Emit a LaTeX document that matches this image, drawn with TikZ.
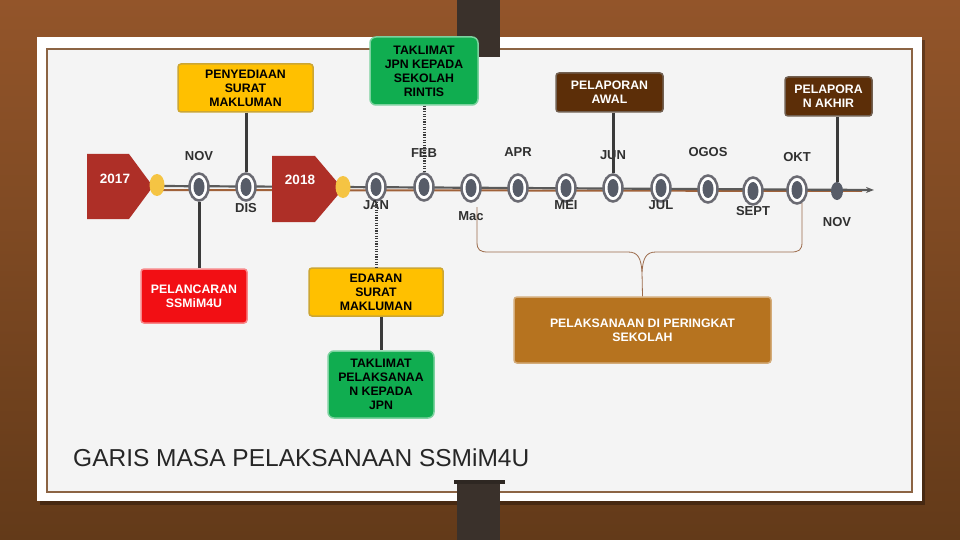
\documentclass[tikz,border=0pt]{standalone}
\usepackage{fontspec}
\setmainfont{Liberation Sans}
\usetikzlibrary{shapes.geometric,arrows.meta,calc}

\definecolor{woodtop}{HTML}{93552A}
\definecolor{woodbot}{HTML}{633A19}
\definecolor{paper}{HTML}{F4F4F4}
\definecolor{frameline}{HTML}{8C6444}
\definecolor{strap}{HTML}{3A312B}
\definecolor{yearred}{HTML}{AE2F27}
\definecolor{dotyellow}{HTML}{F5C443}
\definecolor{ringgray}{HTML}{6A6A72}
\definecolor{dotgray}{HTML}{575C68}
\definecolor{axisgray}{HTML}{5A5A5A}
\definecolor{axisbrown}{HTML}{A0623A}
\definecolor{linkgray}{HTML}{3A3A3A}
\definecolor{boxyellow}{HTML}{FFC000}
\definecolor{boxgreen}{HTML}{10AD50}
\definecolor{boxbrown}{HTML}{5C2E08}
\definecolor{boxred}{HTML}{F20F14}
\definecolor{boxgold}{HTML}{B6731F}
\definecolor{bracecol}{HTML}{9C6B4B}
\definecolor{labelgray}{HTML}{303030}
\definecolor{titlegray}{HTML}{262626}

\begin{document}
\begin{tikzpicture}
  [x=1pt,y=-1pt,
  >={Stealth[length=8pt,width=6pt]},
  month/.style={ellipse,draw=ringgray,line width=2.5pt,fill=white,minimum width=19pt,minimum height=27pt,inner sep=0pt,
    path picture={\fill[dotgray] (path picture bounding box.center) ellipse [x radius=5.5pt,y radius=9pt];}},
  monthend/.style={ellipse,fill=dotgray,minimum width=12pt,minimum height=18pt,inner sep=0pt},
  monthlbl/.style={font=\fontsize{13}{15}\selectfont\bfseries,text=labelgray,inner sep=0pt},
  yearlbl/.style={font=\fontsize{13.5}{15}\selectfont\bfseries,text=white,inner sep=0pt},
  yeardot/.style={ellipse,fill=dotyellow,minimum width=15pt,minimum height=22pt,inner sep=0pt},
  task/.style={rectangle,rounded corners=3pt,line width=1.5pt,align=center,inner sep=2pt,
    font=\fontsize{12.3}{14}\selectfont\bfseries},
  link/.style={draw=linkgray,line width=3pt},
  dottedlink/.style={link,dash pattern=on 1.3pt off 1.3pt},
  bracepath/.style={draw=bracecol,line width=0.8pt}
  ]
  \useasboundingbox (0,0) rectangle (960,540);
  \shade[top color=woodtop,bottom color=woodbot] (0,0) rectangle (960,540);

  % paper
  \fill[black,opacity=.3] (40,40) rectangle (925,505);
  \fill[white] (37,37) rectangle (922,501);
  \draw[frameline,line width=2pt,fill=paper] (47,49) rectangle (912,492);
  \fill[strap] (457,0) rectangle (500,57);
  \fill[strap!80!black] (454,480) rectangle (505,484);
  \fill[strap] (457,484) rectangle (500,540);

  % timeline
  \coordinate (axisstart) at (157,186);
  \coordinate (axisend) at (874,190);
  \draw[axisbrown,line width=2pt] (axisstart |- 0,190) -- (862,191);
  \draw[axisgray,line width=2.2pt,->] (axisstart) -- (axisend);

  \fill[yearred] (87,154) -- (129,154) -- (153,186.5) -- (129,219) -- (87,219) -- cycle;
  \fill[yearred] (272,156) -- (315,156) -- (343,189) -- (315,222) -- (272,222) -- cycle;
  \node[yeardot] (dot2017) at (157,185) {};
  \node[yeardot] (dot2018) at (343,187) {};
  \node[yearlbl] (y2017) at (115,179) {2017};
  \node[yearlbl] (y2018) at (300,180) {2018};

  \foreach \mname/\mx/\my/\ly/\mtxt in {
    nov/199/187/156/NOV, dis/246/187/208/DIS, jan/376/187/205/JAN,
    feb/424/187/153/FEB, mac/471/188/216/Mac, apr/518/188/152/APR,
    mei/566/188/205/MEI, jun/613/188/155/JUN, jul/661/188/205/JUL,
    ogos/708/189/152/OGOS, sept/753/191/211/SEPT, okt/797/190/157/OKT} {
    \node[month] (\mname) at (\mx,\my) {};
    \node[monthlbl] (\mname lbl) at (\mx,\ly) {\mtxt};
  }
  \node[monthend] (novend) at (837,191) {};
  \node[monthlbl] (novendlbl) at (837,222) {NOV};

  % tasks
  \node[task,fill=boxyellow,draw=boxyellow!60!gray,minimum width=135pt,minimum height=48pt] (penyediaan) at (245.5,88)
    {PENYEDIAAN\\SURAT\\MAKLUMAN};
  \node[task,fill=boxgreen,draw=boxgreen!55!white,rounded corners=6pt,minimum width=108pt,minimum height=68pt] (taklimatjpn) at (424,71)
    {TAKLIMAT\\JPN KEPADA\\SEKOLAH\\RINTIS};
  \node[task,fill=boxbrown,draw=boxbrown!40!gray,text=white,minimum width=107pt,minimum height=39pt] (awal) at (609.5,92.5)
    {PELAPORAN\\AWAL};
  \node[task,fill=boxbrown,draw=boxbrown!40!gray,text=white,minimum width=87pt,minimum height=39pt] (akhir) at (828.5,96.5)
    {PELAPORA\\N AKHIR};
  \node[task,fill=boxred,draw=boxred!50!white,text=white,minimum width=106pt,minimum height=54pt] (pelancaran) at (194,296)
    {PELANCARAN\\SSMiM4U};
  \node[task,fill=boxyellow,draw=boxyellow!60!gray,minimum width=134pt,minimum height=48pt] (edaran) at (376,292)
    {EDARAN\\SURAT\\MAKLUMAN};
  \node[task,fill=boxgreen,draw=boxgreen!55!white,rounded corners=6pt,minimum width=106pt,minimum height=67pt] (taklimatjpn2) at (381,384.5)
    {TAKLIMAT\\PELAKSANAA\\N KEPADA\\JPN};
  \node[task,fill=boxgold,draw=boxgold!60!white,text=white,minimum width=257pt,minimum height=66pt] (pelaksanaan) at (642.5,330)
    {PELAKSANAAN DI PERINGKAT\\SEKOLAH};

  \draw[link] (penyediaan.south -| dis) -- (dis);
  \draw[dottedlink] (taklimatjpn) -- (feb);
  \draw[link] (awal.south -| jun) -- (jun);
  \draw[link] (akhir.south -| novend) -- (novend);
  \draw[link] (nov) -- (nov |- pelancaran.north);
  \draw[dottedlink] (jan) -- (edaran);
  \draw[link] (taklimatjpn2 |- edaran.south) -- (taklimatjpn2);

  % brace
  \draw[bracepath] (477,207) -- (477,242) .. controls (477,250) and (480,252) .. (488,252) -- (628,252)
    .. controls (638,252) and (641,258) .. (642,272) -- (pelaksanaan.north);
  \draw[bracepath] (802,203) -- (802,242) .. controls (802,250) and (799,252) .. (791,252) -- (656,252)
    .. controls (646,252) and (643,258) .. (642,272);

  \node[anchor=base west,font=\fontsize{24.5}{28}\selectfont,text=titlegray,inner sep=0pt] (title) at (73,466)
    {GARIS MASA PELAKSANAAN SSMiM4U};
\end{tikzpicture}
\end{document}
